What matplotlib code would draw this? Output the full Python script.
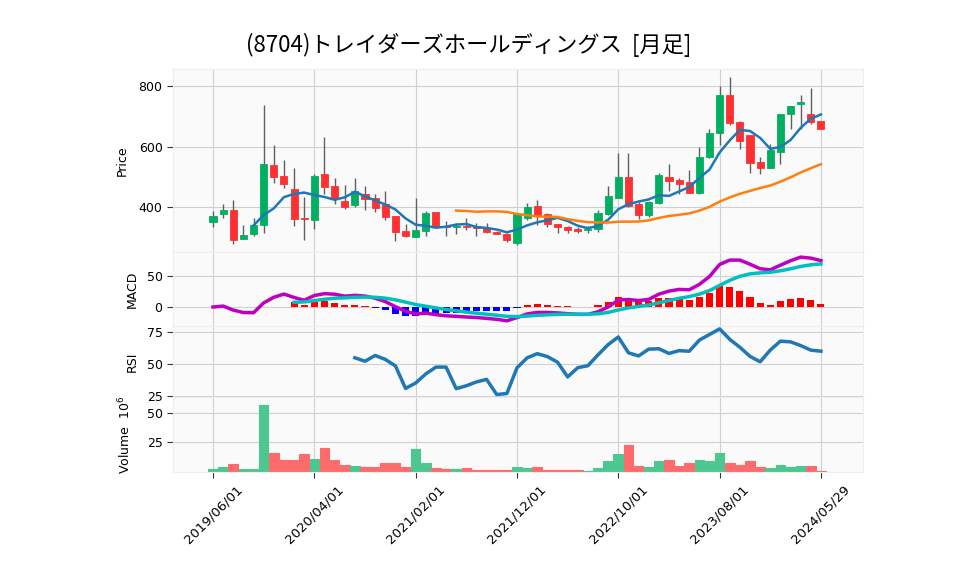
import matplotlib
matplotlib.use("Agg")
import matplotlib.pyplot as plt
import numpy as np
import pandas as pd

plt.rcParams['font.family'] = ['DejaVu Sans']

# Monthly OHLC (yen), first candle = 2019/06
opens = [351, 379, 389, 295, 313, 341, 539, 502, 460, 363,
         357, 511, 469, 419, 408, 442, 430, 410, 370, 320,
         302, 322, 383, 338, 333, 338, 338, 330, 319, 313,
         282, 364, 403, 379, 344, 334, 328, 323, 327, 376,
         431, 498, 412, 374, 414, 501, 491, 482, 446, 565,
         644, 770, 680, 638, 548, 529, 583, 706, 740, 707, 684]
highs = [388, 409, 422, 340, 363, 737, 604, 555, 528, 432,
         511, 632, 497, 472, 497, 470, 445, 454, 372, 346,
         429, 387, 384, 354, 347, 364, 347, 347, 320, 314,
         381, 413, 423, 380, 345, 339, 335, 337, 392, 469,
         580, 580, 416, 420, 513, 544, 497, 522, 598, 657,
         800, 829, 684, 639, 564, 608, 709, 735, 770, 792, 684]
lows = [335, 363, 278, 294, 305, 316, 480, 462, 339, 293,
        327, 443, 409, 394, 401, 390, 383, 359, 288, 302,
        302, 304, 334, 304, 312, 325, 304, 316, 310, 286,
        275, 358, 340, 334, 315, 315, 315, 315, 318, 374,
        429, 402, 361, 366, 410, 454, 445, 446, 442, 563,
        605, 671, 591, 513, 509, 528, 541, 657, 657, 673, 657]
closes = [370, 389, 293, 307, 340, 541, 500, 477, 361, 361,
          502, 467, 431, 401, 453, 427, 398, 366, 318, 305,
          323, 380, 335, 335, 339, 333, 330, 319, 310, 293,
          378, 399, 370, 344, 333, 325, 322, 329, 381, 436,
          498, 404, 374, 416, 505, 487, 477, 447, 565, 644,
          770, 677, 619, 547, 530, 589, 708, 734, 748, 681, 659]
# volume in millions of shares
volumes_m = [2.2, 3.9, 6.2, 2.2, 2.2, 57.3, 15.7, 9.6, 9.6, 14.8,
             10.8, 20.0, 9.6, 5.3, 4.7, 3.6, 3.6, 7.0, 7.0, 3.6,
             19.1, 7.0, 3.0, 1.9, 2.2, 3.0, 1.0, 1.0, 1.0, 1.0,
             3.9, 3.0, 3.9, 1.0, 1.0, 1.0, 1.0, 0.2, 3.0, 9.0,
             15.1, 22.8, 4.7, 3.9, 9.0, 9.9, 4.7, 7.0, 9.9, 9.0,
             15.9, 7.0, 5.6, 9.0, 3.9, 3.0, 5.6, 3.9, 4.7, 4.7, 0.2]

tick_pos = [0, 10, 20, 30, 40, 50, 60]
tick_labels = ['2019/06/01', '2020/04/01', '2021/02/01', '2021/12/01',
               '2022/10/01', '2023/08/01', '2024/05/29']

title = '(8704)トレイダーズホールディングス  [月足]'

UP = '#00b060'
DOWN = '#fe3032'
VOL_UP = '#4dc790'
VOL_DOWN = '#fd6b6c'
FACE = '#fafafa'
GRID = '#d0d0d0'

# indicators
close_s = pd.Series(closes, dtype=float)
ma5 = close_s.rolling(5).mean()
ma25 = close_s.rolling(25).mean()
ema12 = close_s.ewm(span=12, adjust=False).mean()
ema26 = close_s.ewm(span=26, adjust=False).mean()
macd = ema12 - ema26
signal = macd.ewm(span=9, adjust=False, min_periods=9).mean()
hist = macd - signal
diff = close_s.diff()
gain = diff.clip(lower=0).rolling(14).mean()
loss = (-diff.clip(upper=0)).rolling(14).mean()
rsi = 100 * gain / (gain + loss)

x = np.arange(len(closes))
is_up = np.array(closes) >= np.array(opens)

fig = plt.figure(figsize=(9.58, 5.75), dpi=100)
left, width = 173 / 958, 690 / 958
def panel(top_px, bot_px):
    return fig.add_axes([left, 1 - bot_px / 575, width, (bot_px - top_px) / 575])

ax_p = panel(69, 252)
ax_m = panel(252, 326)
ax_r = panel(326, 397)
ax_v = panel(397, 472)

for ax in (ax_p, ax_m, ax_r, ax_v):
    ax.set_facecolor(FACE)
    ax.set_xlim(-3.95, 64.15)
    ax.grid(True, color=GRID, linewidth=0.8)
    ax.set_axisbelow(True)
    for s in ax.spines.values():
        s.set_color('#eeeeee')
    ax.set_xticks(tick_pos)
    ax.tick_params(axis='y', labelsize=9, length=4, color='#333333')
    ax.tick_params(axis='x', length=0, labelbottom=False)

# Price panel
body_bottom = np.minimum(opens, closes)
body_height = np.abs(np.array(closes) - np.array(opens))
colors = [UP if u else DOWN for u in is_up]
ax_p.vlines(x, lows, highs, color='#606060', linewidth=1, zorder=2)
ax_p.bar(x, body_height, bottom=body_bottom, width=0.7, color=colors,
         edgecolor=colors, linewidth=0.6, zorder=3)
ax_p.plot(x, ma5, color='#1f77b4', linewidth=1.8, zorder=4)
ax_p.plot(x, ma25, color='#ff7f0e', linewidth=1.8, zorder=4)
ax_p.set_ylim(252, 856)
ax_p.set_yticks([400, 600, 800])
ax_p.set_ylabel('Price', fontsize=9)
ax_p.yaxis.set_label_coords(-0.064, 0.5)

# MACD panel
hist_colors = ['r' if h >= 0 else 'b' for h in hist.fillna(0)]
ax_m.bar(x, hist, width=0.7, color=hist_colors, zorder=2)
ax_m.plot(x, macd, color='m', linewidth=2.5, zorder=3)
ax_m.plot(x, signal, color='c', linewidth=2.5, zorder=3)
ax_m.set_ylim(-30.6, 88.7)
ax_m.set_yticks([0, 50])
ax_m.set_ylabel('MACD', fontsize=9)
ax_m.yaxis.set_label_coords(-0.049, 0.5)

# RSI panel
ax_r.plot(x, rsi, color='#1f77b4', linewidth=2.5)
ax_r.set_ylim(24.3, 79.8)
ax_r.set_yticks([25, 50, 75])
ax_r.set_ylabel('RSI', fontsize=9)
ax_r.yaxis.set_label_coords(-0.049, 0.5)

# Volume panel
vcolors = [VOL_UP if u else VOL_DOWN for u in is_up]
ax_v.bar(x, volumes_m, width=0.95, color=vcolors, edgecolor=vcolors,
         linewidth=0.8, zorder=2)
ax_v.set_ylim(-0.4, 64)
ax_v.set_yticks([25, 50])
ax_v.set_ylabel('Volume  $10^{6}$', fontsize=9)
ax_v.yaxis.set_label_coords(-0.057, 0.5)
ax_v.tick_params(axis='x', length=4, color='#333333', labelbottom=True)
ax_v.set_xticklabels(tick_labels, rotation=45, ha='center', fontsize=9.5)

fig.text(469 / 958, 1 - 45 / 575, title, ha='center', va='center', fontsize=16,
         family=['Noto Sans CJK JP', 'DejaVu Sans'])

fig.savefig('out.png', dpi=100, facecolor='white')
